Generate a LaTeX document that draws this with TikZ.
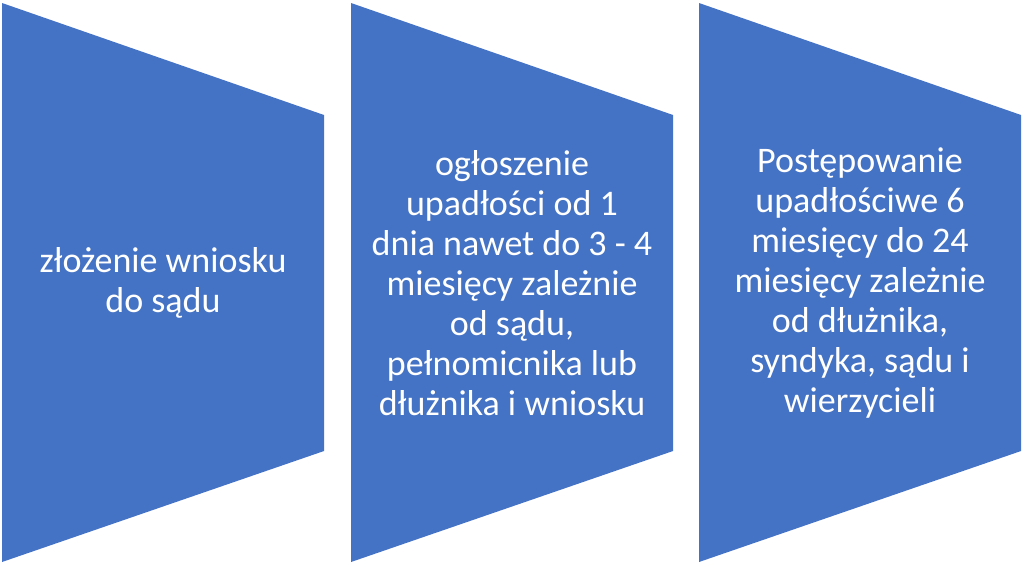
\documentclass[tikz,border=0pt]{standalone}
\usepackage{fontspec}
\setmainfont{Carlito}
\definecolor{blk}{HTML}{4472C4}
\begin{document}
\begin{tikzpicture}[x=1pt,y=-1pt,
  chev/.style={fill=blk,draw=none},
  lbl/.style={text=white,align=center,font=\fontsize{36}{40}\selectfont,inner sep=0pt}]
\useasboundingbox (0,0) rectangle (1024,566);
\foreach \i/\x in {1/2,2/351,3/699}{
  \fill[chev] (\x,3) coordinate (tl\i) -- (\x+322,115) -- (\x+322,451) -- (\x,562) -- cycle;
  \coordinate (c\i) at (\x+161,283);
}
\node[lbl] (t1) at (c1) {złożenie wniosku\\do sądu};
\node[lbl] (t2) at (c2) {ogłoszenie\\upadłości od 1\\dnia nawet do 3 - 4\\miesięcy zależnie\\od sądu,\\pełnomicnika lub\\dłużnika i wniosku};
\node[lbl] (t3) at (c3) {Postępowanie\\upadłościwe 6\\miesięcy do 24\\miesięcy zależnie\\od dłużnika,\\syndyka, sądu i\\wierzycieli};
\end{tikzpicture}
\end{document}
